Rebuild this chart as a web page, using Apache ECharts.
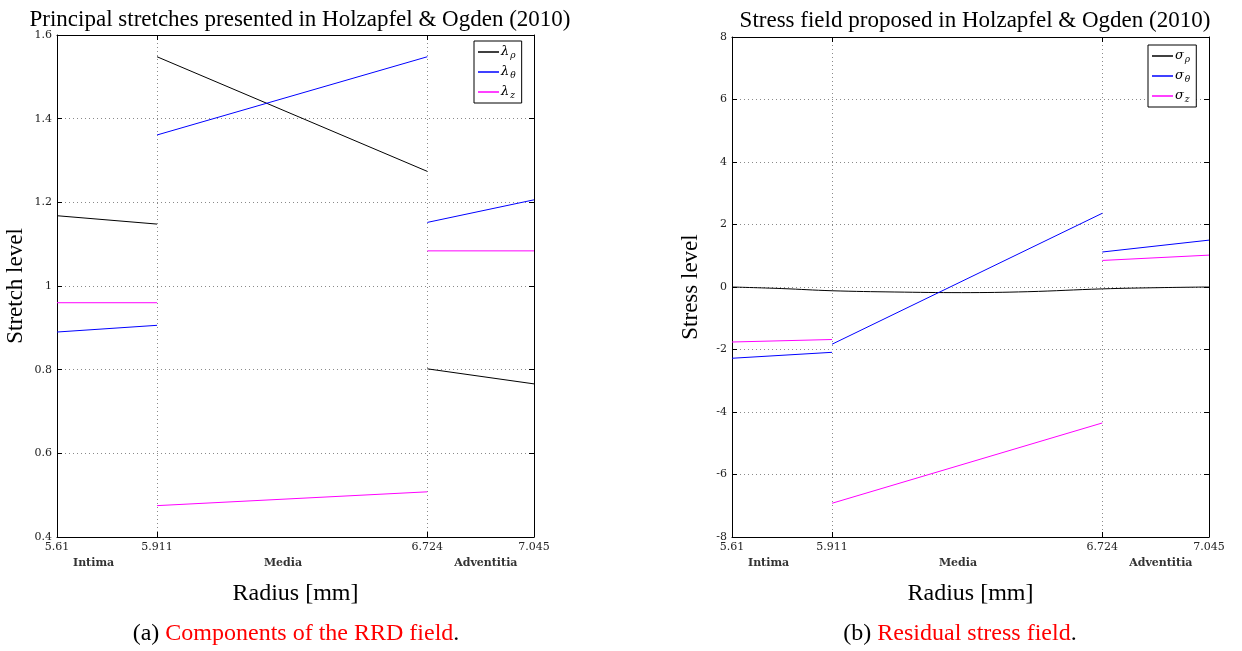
<!DOCTYPE html>
<html>
<head>
<meta charset="utf-8">
<script src="https://cdn.jsdelivr.net/npm/echarts@6/dist/echarts.min.js"></script>
<style>
html, body { margin: 0; padding: 0; background: #fff; }
#main { width: 1242px; height: 651px; }
</style>
</head>
<body>
<div id="main"></div>
<script>
// radius ticks [mm] and layer labels
var radiusTicks = [5.61, 5.911, 6.724, 7.045];
var layerNames = ['Intima', 'Media', 'Adventitia'];
var layerPos = [5.72, 6.29, 6.90];

// (a) principal stretches, one segment per layer : [radius, value]
var lamRho = [
	[[5.61, 1.168], [5.911, 1.148]],
	[[5.911, 1.548], [6.724, 1.274]],
	[[6.724, 0.802], [7.045, 0.766]]
];
var lamTheta = [
	[[5.61, 0.890], [5.911, 0.906]],
	[[5.911, 1.361], [6.724, 1.548]],
	[[6.724, 1.152], [7.045, 1.206]]
];
var lamZ = [
	[[5.61, 0.960], [5.911, 0.960]],
	[[5.911, 0.475], [6.724, 0.508]],
	[[6.724, 1.084], [7.045, 1.084]]
];

// (b) residual stresses
var sigRho = [
	[[5.61, 0], [5.76, -0.05], [5.911, -0.12], [6.1, -0.16], [6.3, -0.18],
	 [6.5, -0.15], [6.724, -0.06], [6.9, -0.02], [7.045, 0]]
];
var sigTheta = [
	[[5.61, -2.28], [5.911, -2.09]],
	[[5.911, -1.83], [6.724, 2.36]],
	[[6.724, 1.12], [7.045, 1.50]]
];
var sigZ = [
	[[5.61, -1.76], [5.911, -1.68]],
	[[5.911, -6.92], [6.724, -4.35]],
	[[6.724, 0.85], [7.045, 1.02]]
];

var SERIF = 'Liberation Serif';
var TICKFONT = 'DejaVu Serif';

function segs(name, color, parts, xi, yi, smooth) {
	return parts.map(function(p) {
		return {
			name: name,
			type: 'line',
			xAxisIndex: xi,
			yAxisIndex: yi,
			data: p,
			symbol: 'none',
			smooth: smooth || false,
			lineStyle: { color: color, width: 1 },
			itemStyle: { color: color },
			animation: false
		};
	});
}

function radiusLabel(v) {
	for (var i = 0; i < layerPos.length; i++) {
		if (Math.abs(v - layerPos[i]) < 1e-9) {
			return '{l|' + layerNames[i] + '}';
		}
	}
	return '{n|' + v + '}';
}

var dotted = { show: true, lineStyle: { color: '#8a8a8a', width: 1, type: [1, 3] } };
var frame = { show: true, onZero: false, lineStyle: { color: '#000', width: 1 } };

function bottomX(gridIndex) {
	return {
		gridIndex: gridIndex,
		type: 'value',
		position: 'bottom',
		min: 5.61,
		max: 7.045,
		name: 'Radius [mm]',
		nameLocation: 'middle',
		nameGap: 45,
		nameTextStyle: { fontFamily: SERIF, fontSize: 24, color: '#000' },
		axisLine: frame,
		axisTick: { show: true, inside: true, length: 5, customValues: radiusTicks, lineStyle: { color: '#000' } },
		axisLabel: {
			customValues: radiusTicks.concat(layerPos),
			formatter: radiusLabel,
			margin: 5,
			showMinLabel: true,
			showMaxLabel: true,
			rich: {
				n: { fontFamily: TICKFONT, fontSize: 11, color: '#222' },
				l: { fontFamily: TICKFONT, fontSize: 11, fontWeight: 'bold', color: '#333', padding: [16, 0, 0, 0] }
			}
		},
		splitLine: dotted
	};
}

function topX(gridIndex) {
	return {
		gridIndex: gridIndex,
		type: 'value',
		position: 'top',
		min: 5.61,
		max: 7.045,
		axisLine: frame,
		axisTick: { show: true, inside: true, length: 5, customValues: radiusTicks, lineStyle: { color: '#000' } },
		axisLabel: { show: false },
		splitLine: { show: false }
	};
}

function leftY(gridIndex, min, max, step, name) {
	return {
		gridIndex: gridIndex,
		type: 'value',
		position: 'left',
		min: min,
		max: max,
		interval: step,
		name: name,
		nameLocation: 'middle',
		nameGap: 30,
		nameTextStyle: { fontFamily: SERIF, fontSize: 23, color: '#000' },
		axisLine: frame,
		axisTick: { show: true, inside: true, length: 5, lineStyle: { color: '#000' } },
		axisLabel: { fontFamily: TICKFONT, fontSize: 11, color: '#222', margin: 5 },
		splitLine: dotted
	};
}

function rightY(gridIndex, min, max, step) {
	return {
		gridIndex: gridIndex,
		type: 'value',
		position: 'right',
		min: min,
		max: max,
		interval: step,
		axisLine: frame,
		axisTick: { show: true, inside: true, length: 5, lineStyle: { color: '#000' } },
		axisLabel: { show: false },
		splitLine: { show: false }
	};
}

function legendFmt(name) {
	return '{g|' + name.charAt(0) + '}{s|' + name.charAt(1) + '}';
}

function legendBox(left, top, names) {
	return {
		orient: 'vertical',
		left: left,
		top: top,
		data: names,
		icon: 'rect',
		backgroundColor: '#fff',
		borderColor: '#000',
		borderWidth: 1,
		borderRadius: 0,
		padding: [3, 6, 3, 4],
		itemWidth: 21,
		itemHeight: 1.5,
		itemGap: 4,
		selectedMode: false,
		formatter: legendFmt,
		textStyle: {
			padding: [0, 0, 0, -3],
			rich: {
				g: { fontFamily: TICKFONT, fontStyle: 'italic', fontSize: 13, color: '#000', lineHeight: 18 },
				s: { fontFamily: TICKFONT, fontStyle: 'italic', fontSize: 9, color: '#000', padding: [7, 0, 0, 1], lineHeight: 18 }
			}
		}
	};
}

var chart = echarts.init(document.getElementById('main'), null, { renderer: 'canvas' });

var series = []
	.concat(segs('λρ', '#000000', lamRho, 0, 0))
	.concat(segs('λθ', '#0000ff', lamTheta, 0, 0))
	.concat(segs('λz', '#ff00ff', lamZ, 0, 0))
	.concat(segs('σρ', '#000000', sigRho, 2, 2, 0.4))
	.concat(segs('σθ', '#0000ff', sigTheta, 2, 2))
	.concat(segs('σz', '#ff00ff', sigZ, 2, 2));

var headStyle = { fontFamily: SERIF, fontSize: 23, fontWeight: 'normal', color: '#000' };
var capStyle = {
	fontFamily: SERIF, fontSize: 24, fontWeight: 'normal', color: '#000',
	rich: { r: { fontFamily: SERIF, fontSize: 24, color: '#ff0000' } }
};

chart.setOption({
	animation: false,
	title: [{
		text: 'Principal stretches presented in Holzapfel & Ogden (2010)',
		left: 295, top: 3, textAlign: 'center', textStyle: headStyle
	}, {
		text: 'Stress field proposed in Holzapfel & Ogden (2010)',
		left: 970, top: 4, textAlign: 'center', textStyle: headStyle
	}, {
		text: '(a) {r|Components of the RRD field}.',
		left: 291, top: 617, textAlign: 'center', textStyle: capStyle
	}, {
		text: '(b) {r|Residual stress field}.',
		left: 955, top: 617, textAlign: 'center', textStyle: capStyle
	}],
	grid: [
		{ left: 57, right: 708, top: 35, bottom: 114 },
		{ left: 732, right: 33, top: 37, bottom: 114 }
	],
	xAxis: [bottomX(0), topX(0), bottomX(1), topX(1)],
	yAxis: [
		leftY(0, 0.4, 1.6, 0.2, 'Stretch level'),
		rightY(0, 0.4, 1.6, 0.2),
		leftY(1, -8, 8, 2, 'Stress level'),
		rightY(1, -8, 8, 2)
	],
	legend: [
		legendBox(474, 41, ['λρ', 'λθ', 'λz']),
		legendBox(1148, 45, ['σρ', 'σθ', 'σz'])
	],
	series: series
});
</script>
</body>
</html>
